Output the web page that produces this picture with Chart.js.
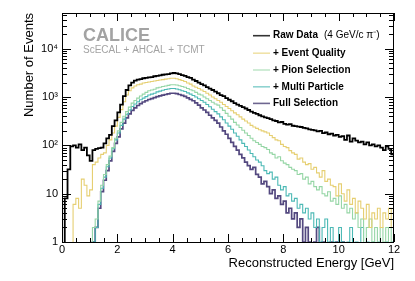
<!DOCTYPE html>
<html>
<head>
<meta charset="utf-8">
<script src="https://cdn.jsdelivr.net/npm/chart.js@4/dist/chart.umd.min.js"></script>
<style>
html,body{margin:0;padding:0;background:#fff;}
#wrap{width:415px;height:281px;position:relative;}
</style>
</head>
<body>
<div id="wrap"><canvas id="c" width="415" height="281"></canvas></div>
<script>
// ---- data (bin width 0.1 GeV, 120 bins from 0 to 12 GeV) ----
const BIN_WIDTH = 0.1;
const X_MIN = 0, X_MAX = 12;
const Y_MIN = 1, Y_MAX = 55000;
const xTickLabels = ['0','2','4','6','8','10','12'];
const yTickValues = [1, 10, 100, 1000, 10000];
const yTickLabels = ['1', '10', '10\u00B2', '10\u00B3', '10\u2074'];
const seriesNames = ['Raw Data', '+ Event Quality', '+ Pion Selection', '+ Multi Particle', 'Full Selection'];

const rawData = [
  0, 8, 32, 95, 100, 90, 105, 80, 90, 62,
  48, 80, 85, 88, 90, 110, 140, 165, 250, 330,
  480, 700, 1050, 1400, 1750, 2000, 2200, 2300, 2350, 2450,
  2500, 2550, 2600, 2700, 2750, 2800, 2900, 2950, 3000, 3100,
  3150, 3100, 3000, 2850, 2750, 2600, 2500, 2300, 2150, 2000,
  1850, 1750, 1600, 1500, 1400, 1300, 1200, 1100, 1050, 950,
  880, 820, 750, 700, 660, 620, 580, 540, 500, 470,
  450, 420, 400, 380, 365, 350, 330, 320, 300, 305,
  280, 270, 275, 255, 250, 245, 240, 230, 225, 215,
  210, 205, 195, 200, 180, 185, 170, 175, 160, 165,
  150, 155, 130, 160, 120, 140, 125, 115, 120, 105,
  115, 100, 105, 95, 100, 90, 80, 95, 85, 65
];
const eventQuality = [
  0, 0, 0, 0, 6, 8, 5, 20, 15, 9,
  12, 40, 45, 55, 65, 70, 100, 130, 180, 250,
  380, 550, 800, 1100, 1350, 1550, 1700, 1800, 1850, 1950,
  2000, 2050, 2100, 2150, 2200, 2250, 2300, 2350, 2400, 2450,
  2450, 2400, 2300, 2200, 2100, 1950, 1850, 1700, 1600, 1500,
  1400, 1300, 1200, 1100, 1000, 920, 850, 780, 700, 640,
  580, 520, 470, 430, 390, 350, 320, 290, 260, 240,
  225, 210, 200, 190, 180, 160, 145, 130, 125, 105,
  95, 90, 78, 70, 65, 52, 55, 45, 40, 42,
  32, 35, 27, 22, 30, 18, 20, 15, 14, 9,
  16, 10, 7, 12, 6, 8, 4, 7, 5, 3,
  6, 2, 4, 3, 5, 2, 4, 3, 5, 2
];
const pionSelection = [
  0, 0, 0, 0, 0, 0, 0, 0, 0, 0,
  0, 2, 3, 7, 15, 25, 40, 60, 90, 140,
  200, 300, 400, 500, 620, 750, 850, 950, 1050, 1150,
  1250, 1350, 1400, 1450, 1550, 1600, 1650, 1700, 1750, 1800,
  1800, 1780, 1720, 1650, 1600, 1500, 1420, 1350, 1250, 1150,
  1100, 1000, 920, 850, 780, 720, 680, 600, 530, 460,
  400, 350, 300, 265, 235, 205, 180, 160, 140, 125,
  115, 105, 95, 90, 82, 70, 65, 55, 58, 48,
  43, 40, 35, 32, 30, 25, 26, 20, 22, 16,
  18, 14, 12, 14, 10, 9, 11, 7, 8, 6,
  9, 5, 6, 4, 5, 3, 4, 2, 3, 0,
  2, 3, 1, 2, 0, 2, 1, 2, 0, 2
];
const multiParticle = [
  0, 0, 0, 0, 0, 0, 0, 0, 0, 0,
  0, 1, 2, 6, 13, 22, 36, 55, 85, 130,
  180, 260, 350, 440, 540, 640, 720, 800, 880, 950,
  1020, 1100, 1150, 1200, 1280, 1330, 1380, 1430, 1470, 1500,
  1500, 1470, 1420, 1350, 1300, 1220, 1150, 1080, 1000, 920,
  850, 780, 700, 630, 560, 500, 450, 390, 340, 290,
  250, 215, 180, 155, 130, 110, 95, 80, 68, 58,
  50, 45, 38, 30, 26, 28, 20, 22, 15, 12,
  14, 9, 10, 7, 8, 5, 6, 4, 5, 3,
  4, 2, 3, 1, 2, 3, 1, 2, 1, 0,
  2, 1, 0, 1, 2, 0, 1, 0, 2, 0,
  1, 0, 1, 0, 1, 0, 0, 1, 0, 1
];
const fullSelection = [
  0, 0, 0, 0, 0, 0, 0, 0, 0, 0,
  0, 1, 2, 5, 11, 19, 30, 48, 75, 110,
  150, 220, 290, 370, 450, 530, 600, 670, 730, 790,
  840, 890, 930, 970, 1020, 1060, 1100, 1130, 1170, 1200,
  1200, 1180, 1130, 1080, 1030, 960, 900, 840, 760, 680,
  600, 540, 480, 420, 370, 330, 290, 240, 200, 170,
  140, 115, 95, 80, 65, 55, 45, 38, 32, 35,
  25, 22, 16, 18, 14, 10, 12, 8, 9, 6,
  7, 4, 5, 3, 4, 2, 3, 1, 2, 1,
  0, 1, 2, 0, 1, 0, 0, 1, 0, 1,
  0, 1, 0, 0, 0, 0, 0, 0, 0, 0,
  0, 0, 0, 0, 0, 0, 0, 0, 0, 0
];

// ---- styling ----
const COLORS = ['#000000', '#e6cf72', '#96d6a6', '#4cb9b5', '#53487f'];
const WIDTHS = [1.8, 1.1, 1.1, 1.1, 1.7];
const LEGEND_COLORS = ['#333333', '#f0e2a8', '#c4e8cc', '#8fd3d0', '#6e6690'];
const FONT = '"Liberation Sans", Arial, Helvetica, sans-serif';

function histPoints(vals) {
  // bins drawn as steps: each point is a bin low edge, final point closes last bin
  const pts = vals.map((v, i) => ({ x: X_MIN + i * BIN_WIDTH, y: v > 0 ? v : 0.05 }));
  const last = vals[vals.length - 1];
  pts.push({ x: X_MIN + vals.length * BIN_WIDTH, y: last > 0 ? last : 0.05 });
  return pts;
}

const allSeries = [rawData, eventQuality, pionSelection, multiParticle, fullSelection];
const drawOrder = [4, 3, 2, 1, 0];
const datasets = drawOrder.map(k => ({
  label: seriesNames[k],
  data: histPoints(allSeries[k]),
  borderColor: COLORS[k],
  borderWidth: WIDTHS[k],
  backgroundColor: 'transparent',
  fill: false,
  pointRadius: 0,
  stepped: 'before',
  tension: 0,
  clip: 0,
  order: k
}));

const framePlugin = {
  id: 'rootFrame',
  afterDatasetsDraw(chart) {
    const ctx = chart.ctx;
    const a = chart.chartArea;
    const xs = chart.scales.x, ys = chart.scales.y;
    ctx.save();
    ctx.strokeStyle = '#000';
    ctx.lineWidth = 1;
    ctx.strokeRect(Math.round(a.left) + 0.5, Math.round(a.top) + 0.5,
                   Math.round(a.right - a.left) - 1, Math.round(a.bottom - a.top));
    ctx.beginPath();
    for (let v = X_MIN; v <= X_MAX + 1e-9; v += 0.5) {
      const px = Math.round(xs.getPixelForValue(v)) + 0.5;
      const major = Math.abs(v / 2 - Math.round(v / 2)) < 1e-6;
      const len = major ? 8 : 4;
      ctx.moveTo(px, a.bottom); ctx.lineTo(px, a.bottom - len);
      ctx.moveTo(px, a.top); ctx.lineTo(px, a.top + len);
    }
    for (let d = 1; d <= 10000; d *= 10) {
      for (let m = 1; m <= 9; m++) {
        const v = d * m;
        if (v > Y_MAX) break;
        const py = Math.round(ys.getPixelForValue(v)) + 0.5;
        const len = m === 1 ? 9 : 5;
        ctx.moveTo(a.left, py); ctx.lineTo(a.left + len, py);
        ctx.moveTo(a.right, py); ctx.lineTo(a.right - len, py);
      }
    }
    ctx.stroke();

    ctx.fillStyle = '#a3a3a3';
    ctx.textBaseline = 'alphabetic';
    ctx.textAlign = 'left';
    ctx.font = 'bold 18px ' + FONT;
    ctx.fillText('CALICE', 83, 41);
    ctx.font = '10px ' + FONT;
    ctx.fillText('ScECAL + AHCAL + TCMT', 83, 52.5);

    const rowY = [35.7, 53.2, 70, 86.8, 103.4];
    for (let k = 0; k < 5; k++) {
      const y = rowY[k];
      ctx.strokeStyle = LEGEND_COLORS[k];
      ctx.lineWidth = 1.6;
      ctx.beginPath();
      ctx.moveTo(253, y); ctx.lineTo(270, y);
      ctx.stroke();
      ctx.fillStyle = '#000';
      ctx.textBaseline = 'middle';
      ctx.font = 'bold 10px ' + FONT;
      ctx.fillText(seriesNames[k], 273, y);
      if (k === 0) {
        const w = ctx.measureText(seriesNames[k]).width;
        ctx.font = '10px ' + FONT;
        ctx.fillText('(4 GeV/c \u03C0\u207B)', 273 + w + 6, y);
      }
    }
    ctx.restore();
  }
};

new Chart(document.getElementById('c'), {
  type: 'line',
  data: { datasets },
  options: {
    responsive: false,
    animation: false,
    events: [],
    layout: { padding: { top: 13, right: 21, left: 0, bottom: 0 } },
    plugins: { legend: { display: false }, tooltip: { enabled: false } },
    scales: {
      x: {
        type: 'linear',
        min: X_MIN, max: X_MAX,
        grid: { display: false, drawTicks: false },
        border: { display: false },
        afterBuildTicks: s => { s.ticks = xTickLabels.map(t => ({ value: Number(t) })); },
        afterFit: s => { s.height = 39; },
        ticks: {
          maxRotation: 0, autoSkip: false, padding: 1,
          color: '#000', font: { family: FONT, size: 11 },
          callback: (v, i) => xTickLabels[i]
        },
        title: {
          display: true, text: 'Reconstructed Energy [GeV]', align: 'end',
          color: '#000', font: { family: FONT, size: 13 },
          padding: { top: 0, bottom: 10 }
        }
      },
      y: {
        type: 'logarithmic',
        min: Y_MIN, max: Y_MAX,
        grid: { display: false, drawTicks: false },
        border: { display: false },
        afterBuildTicks: s => { s.ticks = yTickValues.map(v => ({ value: v })); },
        afterFit: s => { s.width = 62; },
        ticks: {
          autoSkip: false, padding: 4,
          color: '#000', font: { family: FONT, size: 11 },
          callback: (v, i) => yTickLabels[i]
        },
        title: {
          display: true, text: 'Number of Events', align: 'end',
          color: '#000', font: { family: FONT, size: 13 },
          padding: 22
        }
      }
    }
  },
  plugins: [framePlugin]
});
</script>
</body>
</html>
